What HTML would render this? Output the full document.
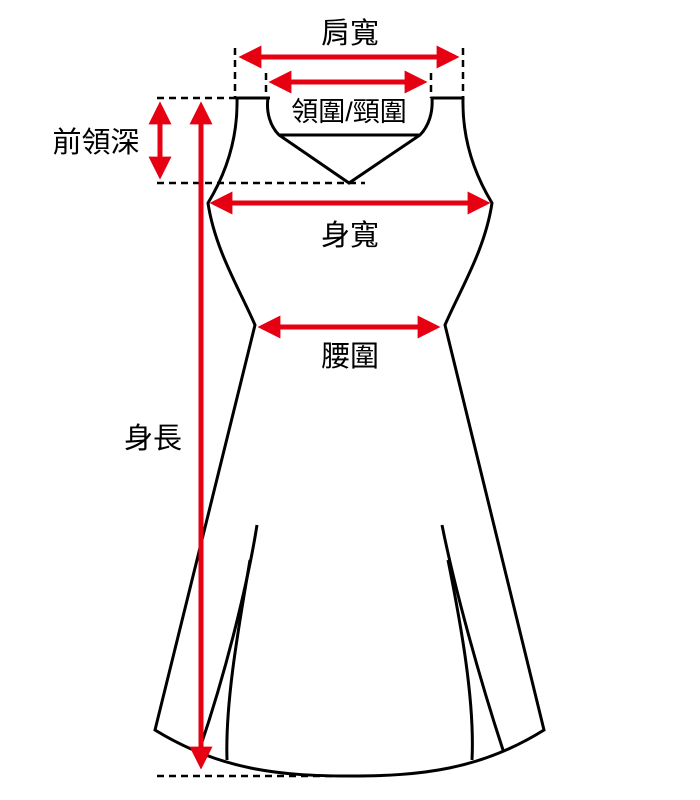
<!DOCTYPE html>
<html><head><meta charset="utf-8"><style>body{margin:0;background:#fff}svg{display:block}text{font-family:"Liberation Sans","Noto Sans CJK TC",sans-serif;font-size:29px;fill:#000}</style></head><body>
<svg width="700" height="800" viewBox="0 0 700 800">
<defs><marker id="a" viewBox="0 0 10 10" refX="8" refY="5" markerWidth="4.6" markerHeight="4.6" orient="auto-start-reverse"><path d="M0,0L10,5L0,10z" fill="#e60012"/></marker></defs>
<g fill="none" stroke="#000" stroke-width="3">
<path d="M237,98 L268,98 C266,112 270,126 279,135 L349,183 L420,135 C429,126 433,112 432,98 L463,98 C462,140 475,175 492,203 C485,250 460,290 445,325 L544,730 C480,770 420,776 350,776 C280,776 220,770 155,730 L255,325 C240,290 215,250 208,203 C225,175 238,140 237,98 Z"/>
<path d="M279,135 L420,135"/>
<path d="M257,525 C250,570 230,660 200,748"/>
<path d="M250,560 C240,620 225,700 227,760"/>
<path d="M442,525 C455,590 480,680 503,750"/>
<path d="M448,560 C460,620 475,700 472,760"/>
</g>
<g stroke="#000" stroke-width="2.5" stroke-dasharray="7,5" fill="none">
<path d="M235,48V98M463,48V98M266,73V98M431,73V98M157,98H270M157,183H365M157,776H365"/>
</g>
<g stroke="#e60012" stroke-width="5" fill="none" marker-start="url(#a)" marker-end="url(#a)">
<path d="M243,57H455"/><path d="M273,82H423"/><path d="M160,106V175"/><path d="M214,203H486"/><path d="M262,327H436"/>
</g>
<path d="M201,106V765" stroke="#e60012" stroke-width="5" marker-start="url(#a)" marker-end="url(#a)"/>
<text x="350" y="43" text-anchor="middle">肩寬</text>
<text x="349" y="121" text-anchor="middle" style="font-size:27px">領圍/頸圍</text>
<text x="96" y="152" text-anchor="middle">前領深</text>
<text x="350" y="245" text-anchor="middle">身寬</text>
<text x="350" y="366" text-anchor="middle">腰圍</text>
<text x="153" y="448" text-anchor="middle">身長</text>
</svg></body></html>
